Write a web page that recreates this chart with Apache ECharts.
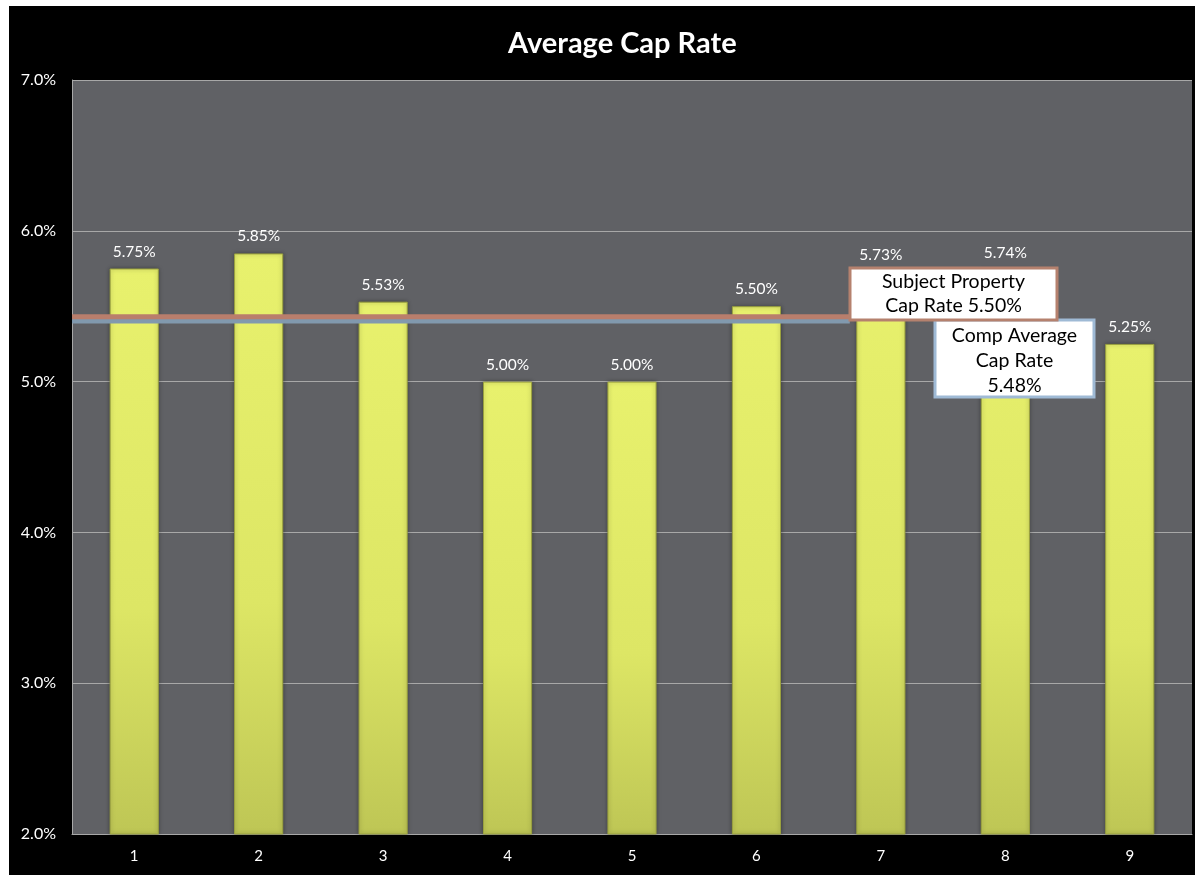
<!DOCTYPE html>
<html>
<head>
<meta charset="utf-8">
<script src="https://cdn.jsdelivr.net/npm/echarts@6/dist/echarts.min.js"></script>
<style>
  html, body { margin: 0; padding: 0; background: #ffffff; }
  #c { position: absolute; left: 9px; top: 6px; width: 1186px; height: 869px; background: #000000; }
</style>
</head>
<body>
<div id="c"></div>
<script>
// ---- data ----
const categories = ['1', '2', '3', '4', '5', '6', '7', '8', '9'];
const capRates = [5.75, 5.85, 5.53, 5.00, 5.00, 5.50, 5.73, 5.74, 5.25];
const subjectLineValue = 5.43;   // drawn position of the subject property line
const compLineValue = 5.40;      // drawn position of the comp average line
const lineSpan = [0, 6.25];      // in category-band units
const subjectLabel = ['Subject Property', 'Cap Rate 5.50%'];
const compLabel = ['Comp Average', 'Cap Rate', '5.48%'];
const yTicks = [2, 3, 4, 5, 6, 7];

const FONT = 'Lato, "Open Sans", sans-serif';
const chart = echarts.init(document.getElementById('c'));

chart.setOption({
  backgroundColor: '#000000',
  animation: false,
  title: {
    text: 'Average Cap Rate',
    left: 494,
    top: 18,
    textStyle: { color: '#ffffff', fontFamily: FONT, fontWeight: 'bold', fontSize: 29 }
  },
  grid: {
    left: 63, top: 74, right: 3, bottom: 41,
    show: true, backgroundColor: '#606165', borderWidth: 0
  },
  xAxis: [{
    type: 'category',
    data: categories,
    axisLine: { show: true, lineStyle: { color: '#a8a8a8', width: 1 } },
    axisTick: { show: false },
    axisLabel: { color: '#ffffff', fontFamily: FONT, fontSize: 15, margin: 15 }
  }, {
    type: 'value', min: 0, max: categories.length, show: false
  }],
  yAxis: {
    type: 'value',
    min: yTicks[0], max: yTicks[yTicks.length - 1], interval: 1,
    axisLine: { show: true, lineStyle: { color: '#a8a8a8', width: 1 } },
    axisTick: { show: false },
    splitLine: { show: true, lineStyle: { color: '#a8a8a8', width: 1 } },
    axisLabel: {
      color: '#ffffff', fontFamily: FONT, fontSize: 16, margin: 16,
      formatter: v => v.toFixed(1) + '%'
    }
  },
  series: [{
    type: 'bar',
    data: capRates,
    barWidth: '39.5%',
    itemStyle: {
      color: new echarts.graphic.LinearGradient(0, 0, 0, 1, [
        { offset: 0, color: '#e8f16d' },
        { offset: 0.6, color: '#dde665' },
        { offset: 1, color: '#bec655' }
      ]),
      borderColor: '#9ba23e',
      borderWidth: 1,
      shadowColor: 'rgba(0,0,0,0.35)',
      shadowBlur: 4
    },
    label: {
      show: true, position: 'top', distance: 9,
      color: '#ffffff', fontFamily: FONT, fontSize: 15.5,
      formatter: p => p.value.toFixed(2) + '%'
    },
    z: 2
  }, {
    type: 'line',
    xAxisIndex: 1,
    data: [[lineSpan[0], compLineValue], [lineSpan[1], compLineValue]],
    showSymbol: false, symbol: 'none',
    lineStyle: { color: '#8199ae', width: 4.5 },
    z: 3
  }, {
    type: 'line',
    xAxisIndex: 1,
    data: [[lineSpan[0], subjectLineValue], [lineSpan[1], subjectLineValue]],
    showSymbol: false, symbol: 'none',
    lineStyle: { color: '#b97e6c', width: 5 },
    z: 4
  }],
  graphic: [{
    type: 'rect', x: 926, y: 314, z: 100, zlevel: 1,
    shape: { x: 0, y: 0, width: 159, height: 77 },
    style: { fill: '#ffffff', stroke: '#9fbad5', lineWidth: 3 }
  }, {
    type: 'text', x: 1005.5, y: 317, z: 101, zlevel: 1,
    style: {
      text: compLabel.join('\n'), fill: '#000000', font: '19.5px ' + FONT,
      align: 'center', verticalAlign: 'top', lineHeight: 25
    }
  }, {
    type: 'rect', x: 841, y: 262, z: 102, zlevel: 1,
    shape: { x: 0, y: 0, width: 207, height: 52 },
    style: { fill: '#ffffff', stroke: '#b5816e', lineWidth: 3 }
  }, {
    type: 'text', x: 944.5, y: 264, z: 103, zlevel: 1,
    style: {
      text: subjectLabel.join('\n'), fill: '#000000', font: '19.5px ' + FONT,
      align: 'center', verticalAlign: 'top', lineHeight: 24
    }
  }]
});
</script>
</body>
</html>
